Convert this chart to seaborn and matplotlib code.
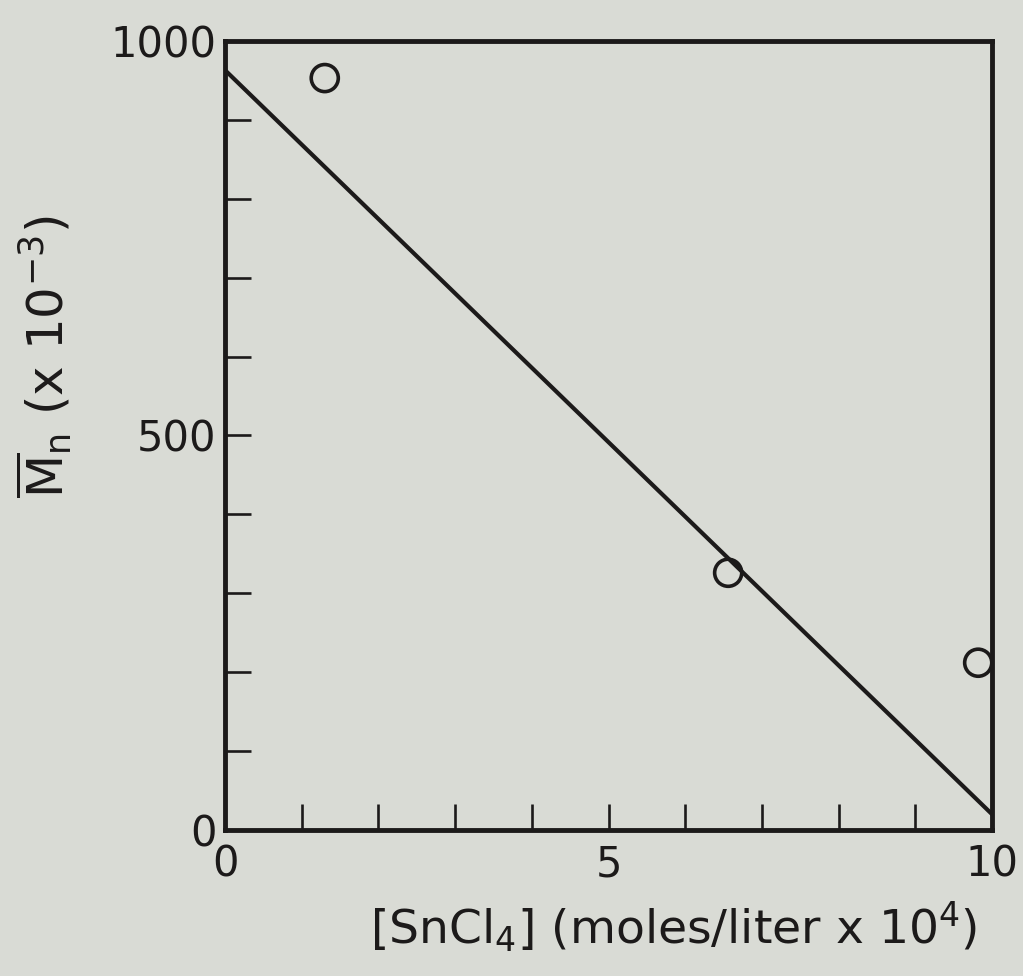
import matplotlib
matplotlib.use("Agg")
import matplotlib.pyplot as plt
import seaborn as sns
import pandas as pd

# Measured number-average molecular weight vs SnCl4 concentration
sncl4_conc = [1.3, 6.56, 9.82]
mn_values = [953, 326, 212]

# Straight-line fit drawn through the data
fit_conc = [0.0, 10.0]
fit_mn = [963, 20]

x_major = [0, 5, 10]
y_major = [0, 500, 1000]

bg = "#d9dbd5"
ink = "#1c1a1a"

sns.set_theme(style="ticks")
plt.rcParams["font.family"] = ["DejaVu Sans"]
plt.rcParams["mathtext.fontset"] = "dejavusans"

fig = plt.figure(figsize=(10.23, 9.76), dpi=100, facecolor=bg)
ax = fig.add_axes([0.22, 0.1496, 0.7497, 0.8084], facecolor=bg)

pts = pd.DataFrame({"conc": sncl4_conc, "mn": mn_values})
fit = pd.DataFrame({"conc": fit_conc, "mn": fit_mn})

sns.lineplot(data=fit, x="conc", y="mn", ax=ax, color=ink, linewidth=3.0)
sns.scatterplot(data=pts, x="conc", y="mn", ax=ax, s=380, facecolors="none",
                edgecolor=ink, linewidth=2.6, zorder=3)

ax.set_xlim(0, 10)
ax.set_ylim(0, 1000)

ax.set_xticks(x_major)
ax.set_xticklabels([str(v) for v in x_major])
ax.set_xticks(range(0, 11), minor=True)
ax.set_yticks(y_major)
ax.set_yticklabels([str(v) for v in y_major])
ax.set_yticks(range(0, 1001, 100), minor=True)

ax.tick_params(axis="both", which="both", direction="in", color=ink,
               width=1.9, length=19, labelsize=30, labelcolor=ink)
ax.tick_params(axis="x", which="major", pad=10)
ax.tick_params(axis="y", which="major", pad=6)

for side in ["left", "right", "top", "bottom"]:
    ax.spines[side].set_visible(True)
    ax.spines[side].set_linewidth(3.5)
    ax.spines[side].set_color(ink)

ax.set_xlabel(r"$\left[\mathregular{SnCl_4}\right]$ (moles/liter x 10$^4$)",
              fontsize=34, color=ink)
ax.set_ylabel(r"$\overline{\mathregular{M}}_\mathregular{n}$ (x 10$^{-3}$)",
              fontsize=36, color=ink)
ax.xaxis.set_label_coords(0.585, -0.088)
ax.yaxis.set_label_coords(-0.197, 0.6)

fig.savefig("out.png", dpi=100, facecolor=bg)
